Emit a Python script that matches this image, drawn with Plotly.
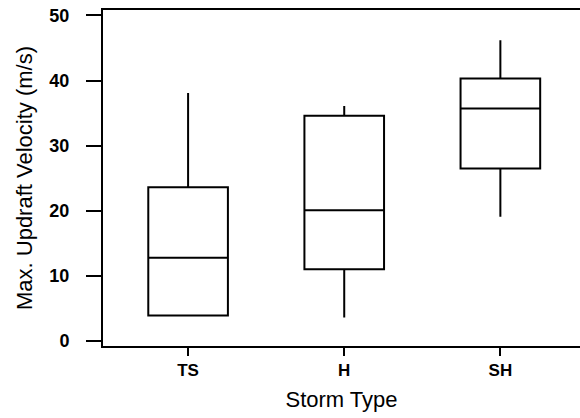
import plotly.graph_objects as go

categories = ["TS", "H", "SH"]
q1 = [3.9, 11.0, 26.5]
median = [12.8, 20.1, 35.7]
q3 = [23.6, 34.6, 40.3]
lower_whisker = [3.9, 3.6, 19.1]
upper_whisker = [38.1, 36.1, 46.2]
y_ticks = [0, 10, 20, 30, 40, 50]

fig = go.Figure()
fig.add_trace(go.Box(
    x=categories, q1=q1, median=median, q3=q3,
    lowerfence=lower_whisker, upperfence=upper_whisker,
    fillcolor="white", line=dict(color="black", width=2),
    whiskerwidth=0, width=0.51, boxpoints=False, showlegend=False,
    hoverinfo="skip",
))

font_family = "Liberation Sans, Arial, Helvetica, sans-serif"
fig.update_layout(
    width=580, height=418,
    margin=dict(l=103, r=0, t=10, b=72),
    paper_bgcolor="white", plot_bgcolor="white",
    font=dict(family=font_family, color="black"),
    xaxis=dict(
        type="category", range=[-0.545, 2.51], automargin=False,
        showline=True, linecolor="black", linewidth=2, mirror=True,
        ticks="outside", ticklen=8, tickwidth=1.5, tickcolor="black",
        showgrid=False, zeroline=False,
        tickfont=dict(size=17, family="Liberation Sans, Arial", weight="bold"),
        title=dict(text="Storm Type", font=dict(size=22), standoff=12),
    ),
    yaxis=dict(
        range=[-0.77, 50.84], tickvals=y_ticks, automargin=False,
        showline=True, linecolor="black", linewidth=2,
        ticks="outside", ticklen=15, tickwidth=2, tickcolor="black",
        showgrid=False, zeroline=False, ticklabelstandoff=13,
        ticklabeloverflow="allow",
        tickfont=dict(size=18, family="Liberation Sans, Arial", weight="bold"),
        title=dict(text="Max. Updraft Velocity (m/s)", font=dict(size=22), standoff=11),
    ),
)

fig.write_html(
    "out.html",
    config={"displayModeBar": False},
    post_script="document.body.style.margin='0';document.body.style.overflow='hidden';",
)
